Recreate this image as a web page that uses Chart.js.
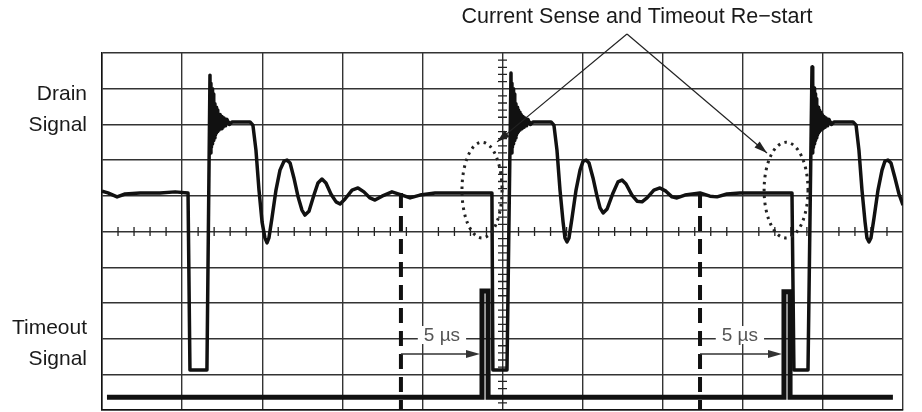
<!DOCTYPE html>
<html>
<head>
<meta charset="utf-8">
<title>Current Sense and Timeout Re-start</title>
<script src="https://cdn.jsdelivr.net/npm/chart.js@4.4.0/dist/chart.umd.min.js"></script>
<style>
  html, body { margin: 0; padding: 0; background: #fff; }
  #wrap { width: 922px; height: 412px; }
</style>
</head>
<body>
<div id="wrap"><canvas id="scope" width="922" height="412"></canvas></div>
<script>
'use strict';

// Time in microseconds (5 us per division), level in screen divisions (0..10)
const drainTrace = [
    [0, 6.13], [0.37, 6.08], [0.94, 5.97], [1.44, 6.05], [2.37, 6.08], [3.62, 6.08],
    [4.56, 6.11], [5.37, 6.08], [5.49, 1.12], [6.55, 1.12],
    // first turn-on with ringing
    [6.74, 9.38], [6.77, 7.20], [6.80, 9.15], [6.83, 7.35], [6.87, 9.00], [6.90, 7.45],
    [6.93, 8.85], [6.96, 7.55], [6.99, 8.70], [7.02, 7.62], [7.05, 8.58], [7.08, 7.70],
    [7.12, 8.48], [7.15, 7.76], [7.18, 8.40], [7.21, 7.80], [7.24, 8.34], [7.30, 7.84],
    [7.37, 8.28], [7.43, 7.88], [7.49, 8.22], [7.56, 7.92], [7.62, 8.18], [7.71, 7.96],
    [7.80, 8.14], [7.95, 8.00], [8.11, 8.07], [9.24, 8.07], [9.42, 7.98],
    [9.61, 7.28], [9.80, 6.16], [9.99, 5.27], [10.17, 4.82], [10.30, 4.68], [10.42, 4.82],
    [10.61, 5.38], [10.86, 6.16], [11.11, 6.72], [11.36, 6.97], [11.55, 7.00], [11.74, 6.92],
    [11.98, 6.50], [12.23, 5.99], [12.48, 5.60], [12.67, 5.46], [12.92, 5.57], [13.23, 6.02],
    [13.48, 6.36], [13.73, 6.47], [13.98, 6.36], [14.29, 6.05], [14.61, 5.83], [14.86, 5.77],
    [15.17, 5.91], [15.61, 6.16], [15.98, 6.22], [16.35, 6.11], [16.73, 5.94], [17.04, 5.88],
    [17.48, 5.99], [18.10, 6.11], [18.73, 6.02], [19.23, 5.94], [19.85, 6.02], [20.79, 6.08],
    [22.35, 6.08], [24.34, 6.08], [24.40, 1.12], [25.28, 1.12],
    // second turn-on
    [25.53, 9.44], [25.56, 7.20], [25.59, 9.15], [25.62, 7.35], [25.66, 9.00], [25.69, 7.45],
    [25.72, 8.85], [25.75, 7.55], [25.78, 8.70], [25.81, 7.62], [25.84, 8.58], [25.87, 7.70],
    [25.91, 8.48], [25.94, 7.76], [25.97, 8.40], [26.00, 7.80], [26.03, 8.34], [26.09, 7.84],
    [26.16, 8.28], [26.22, 7.88], [26.28, 8.22], [26.35, 7.92], [26.41, 8.18], [26.50, 7.96],
    [26.59, 8.14], [26.74, 8.00], [26.90, 8.07], [28.03, 8.07], [28.21, 7.98],
    [28.40, 7.28], [28.59, 6.16], [28.78, 5.27], [28.90, 4.82], [29.03, 4.71], [29.15, 4.82],
    [29.34, 5.38], [29.59, 6.16], [29.84, 6.72], [30.03, 6.97], [30.22, 7.00], [30.40, 6.92],
    [30.65, 6.50], [30.90, 5.99], [31.09, 5.66], [31.28, 5.52], [31.53, 5.63], [31.90, 6.08],
    [32.21, 6.39], [32.46, 6.44], [32.71, 6.33], [33.08, 6.02], [33.40, 5.85], [33.71, 5.83],
    [34.02, 5.94], [34.45, 6.16], [34.83, 6.22], [35.20, 6.13], [35.58, 5.97], [35.89, 5.94],
    [36.39, 6.02], [37.33, 6.08], [37.95, 5.99], [38.39, 5.97], [39.01, 6.05], [39.82, 6.08],
    [41.70, 6.08], [43.07, 6.08], [43.19, 1.12], [44.07, 1.12],
    // third turn-on
    [44.32, 9.61], [44.35, 7.20], [44.38, 9.20], [44.41, 7.35], [44.45, 9.02], [44.48, 7.45],
    [44.51, 8.86], [44.54, 7.55], [44.57, 8.72], [44.60, 7.62], [44.63, 8.60], [44.66, 7.70],
    [44.70, 8.48], [44.73, 7.76], [44.76, 8.40], [44.79, 7.80], [44.82, 8.34], [44.88, 7.84],
    [44.95, 8.28], [45.01, 7.88], [45.07, 8.22], [45.14, 7.92], [45.20, 8.18], [45.29, 7.96],
    [45.38, 8.14], [45.53, 8.00], [45.69, 8.07], [46.88, 8.07], [47.07, 7.98],
    [47.25, 7.28], [47.44, 6.16], [47.63, 5.27], [47.75, 4.82], [47.88, 4.71], [48.00, 4.82],
    [48.19, 5.38], [48.44, 6.16], [48.69, 6.72], [48.87, 6.97], [49.06, 7.00], [49.25, 6.92],
    [49.50, 6.50], [49.75, 6.05], [50.00, 5.74]
];

const timeoutTrace = [
    [0.31, 0.36], [23.72, 0.36], [23.72, 3.33], [24.10, 3.33], [24.10, 0.36],
    [42.57, 0.36], [42.57, 3.31], [42.95, 3.31], [42.95, 0.36], [49.37, 0.36]
];

// Where the timeout count starts (dashed) and where the timeout pulse fires
const restartMarkers = [18.66, 37.33];
const timeoutPulses = [23.72, 42.57];
const markerTop = 6.08;
const delayLabel = '5 µs';

const signalLabels = [
    { lines: ['Drain', 'Signal'], y: [8.84, 7.99] },
    { lines: ['Timeout', 'Signal'], y: [2.29, 1.43] }
];
const calloutText = 'Current Sense and Timeout Re\u2212start';

// Annotation geometry (data units)
const calloutOrigin = { x: 32.77, y: 10.53 };
const calloutTips = [{ x: 24.66, y: 7.51 }, { x: 41.51, y: 7.20 }];
const senseRings = [
    { x: 23.72, y: 6.16, rx: 1.25, ry: 1.34 },
    { x: 42.70, y: 6.16, rx: 1.37, ry: 1.34 }
];
const arrowLevel = 1.57;
const delayLabelPos = [{ x: 21.22, y: 2.10 }, { x: 39.82, y: 2.10 }];

const FONT = '"Liberation Sans", Arial, Helvetica, sans-serif';

/**
 * Turn [x, y] pairs into Chart.js points
 */
function toPoints(pairs) {
    return pairs.map(p => ({ x: p[0], y: p[1] }));
}

function drawArrowHead(ctx, x1, y1, x2, y2, len, half) {
    const a = Math.atan2(y2 - y1, x2 - x1);
    ctx.beginPath();
    ctx.moveTo(x2, y2);
    ctx.lineTo(x2 - len * Math.cos(a) + half * Math.sin(a), y2 - len * Math.sin(a) - half * Math.cos(a));
    ctx.lineTo(x2 - len * Math.cos(a) - half * Math.sin(a), y2 - len * Math.sin(a) + half * Math.cos(a));
    ctx.closePath();
    ctx.fill();
}

// Graticule centre lines with minor ticks, and the white box behind "5 us"
const graticulePlugin = {
    id: 'graticule',
    beforeDatasetsDraw(chart) {
        const { ctx, scales: { x, y } } = chart;
        const cy = y.getPixelForValue(5);
        const cx = x.getPixelForValue(25);
        ctx.save();
        ctx.strokeStyle = '#222';
        ctx.lineWidth = 1.3;
        ctx.beginPath();
        for (let t = 1; t < 50; t++) {
            if (t % 5 === 0) continue;
            const px = x.getPixelForValue(t);
            ctx.moveTo(px, cy - 4.5);
            ctx.lineTo(px, cy + 4.5);
        }
        for (let d = 0.2; d < 10; d += 0.2) {
            if (Math.abs(d - Math.round(d)) < 0.01) continue;
            const py = y.getPixelForValue(d);
            ctx.moveTo(cx - 4.5, py);
            ctx.lineTo(cx + 4.5, py);
        }
        ctx.stroke();

        ctx.font = '19px ' + FONT;
        ctx.textAlign = 'center';
        ctx.textBaseline = 'middle';
        delayLabelPos.forEach(p => {
            const px = x.getPixelForValue(p.x);
            const py = y.getPixelForValue(p.y);
            const w = ctx.measureText(delayLabel).width + 12;
            ctx.fillStyle = '#fff';
            ctx.fillRect(px - w / 2, py - 9, w, 18);
            ctx.fillStyle = '#555';
            ctx.fillText(delayLabel, px, py + 1);
        });
        ctx.restore();
    },
    afterDatasetsDraw(chart) {
        const { ctx, scales: { x, y } } = chart;
        ctx.save();

        // 5 us arrows
        ctx.strokeStyle = '#333';
        ctx.fillStyle = '#333';
        ctx.lineWidth = 1.5;
        restartMarkers.forEach((m, i) => {
            const x1 = x.getPixelForValue(m);
            const x2 = x.getPixelForValue(timeoutPulses[i]) - 2;
            const py = y.getPixelForValue(arrowLevel);
            ctx.beginPath();
            ctx.moveTo(x1, py);
            ctx.lineTo(x2 - 8, py);
            ctx.stroke();
            drawArrowHead(ctx, x1, py, x2, py, 14, 4);
        });

        // dotted rings round the current sense points
        ctx.strokeStyle = '#222';
        ctx.lineWidth = 3;
        ctx.setLineDash([2.5, 4.5]);
        senseRings.forEach(r => {
            const cx = x.getPixelForValue(r.x);
            const cy = y.getPixelForValue(r.y);
            const rx = Math.abs(x.getPixelForValue(r.x + r.rx) - cx);
            const ry = Math.abs(y.getPixelForValue(r.y + r.ry) - cy);
            ctx.beginPath();
            ctx.ellipse(cx, cy, rx, ry, 0, 0, Math.PI * 2);
            ctx.stroke();
        });
        ctx.setLineDash([]);

        // callout leaders
        const ox = x.getPixelForValue(calloutOrigin.x);
        const oy = y.getPixelForValue(calloutOrigin.y);
        ctx.strokeStyle = '#222';
        ctx.fillStyle = '#222';
        ctx.lineWidth = 1.2;
        calloutTips.forEach(t => {
            const tx = x.getPixelForValue(t.x);
            const ty = y.getPixelForValue(t.y);
            ctx.beginPath();
            ctx.moveTo(ox, oy);
            ctx.lineTo(tx, ty);
            ctx.stroke();
            drawArrowHead(ctx, ox, oy, tx, ty, 13, 4);
        });

        // texts
        ctx.fillStyle = '#1a1a1a';
        ctx.font = '21.5px ' + FONT;
        ctx.textAlign = 'center';
        ctx.textBaseline = 'middle';
        ctx.fillText(calloutText, ox + 10, oy - 17);

        ctx.font = '21px ' + FONT;
        ctx.textAlign = 'right';
        signalLabels.forEach(l => {
            l.lines.forEach((txt, k) => {
                ctx.fillText(txt, chart.chartArea.left - 15, y.getPixelForValue(l.y[k]));
            });
        });
        ctx.restore();
    }
};

const markerSets = restartMarkers.map(m => ({
    data: toPoints([[m, markerTop], [m, 0]]),
    borderColor: '#111',
    borderWidth: 4,
    borderDash: [15, 8],
    pointRadius: 0,
    tension: 0
}));

new Chart(document.getElementById('scope'), {
    type: 'line',
    data: {
        datasets: [
            {
                label: 'Drain Signal',
                data: toPoints(drainTrace),
                borderColor: '#111',
                borderWidth: 3.5,
                borderJoinStyle: 'round',
                pointRadius: 0,
                tension: 0
            },
            {
                label: 'Timeout Signal',
                data: toPoints(timeoutTrace),
                borderColor: '#111',
                borderWidth: 5,
                borderJoinStyle: 'miter',
                pointRadius: 0,
                tension: 0
            }
        ].concat(markerSets)
    },
    options: {
        responsive: false,
        animation: false,
        layout: { padding: { left: 102, top: 53, right: 19, bottom: 2 } },
        plugins: {
            legend: { display: false },
            tooltip: { enabled: false }
        },
        scales: {
            x: {
                type: 'linear',
                min: 0,
                max: 50,
                ticks: { display: false, stepSize: 5 },
                grid: { color: '#333', lineWidth: 1.4, drawTicks: false },
                border: { color: '#111', width: 1.5 },
                afterFit: s => { s.height = 0; }
            },
            y: {
                type: 'linear',
                min: 0,
                max: 10,
                ticks: { display: false, stepSize: 1 },
                grid: { color: '#333', lineWidth: 1.4, drawTicks: false },
                border: { color: '#111', width: 1.5 },
                afterFit: s => { s.width = 0; }
            }
        }
    },
    plugins: [graticulePlugin]
});
</script>
</body>
</html>
